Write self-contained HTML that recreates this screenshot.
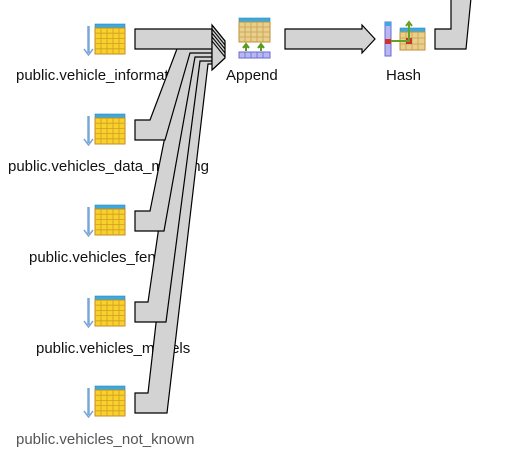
<!DOCTYPE html>
<html><head><style>
html,body{margin:0;padding:0;background:#fff;width:520px;height:460px;overflow:hidden}
svg{display:block}
text{font-family:"Liberation Sans","DejaVu Sans",sans-serif;font-size:15px;fill:#111}
</style></head><body>
<svg width="520" height="460" viewBox="0 0 520 460">
<defs>
<g id="src">
  <line x1="88.5" y1="2" x2="88.5" y2="29" stroke="#7aa7d8" stroke-width="2.5"/>
  <path d="M84 25 L88.5 31 L93 25" fill="none" stroke="#7aa7d8" stroke-width="1.5"/>
  <rect x="95" y="0" width="30" height="4" fill="#3aaae0" stroke="#2a8ac0" stroke-width="0.6"/>
  <rect x="95" y="4" width="30" height="26" fill="#f6d22a" stroke="#c88a20" stroke-width="1"/>
  <path d="M101 4V30M107 4V30M113 4V30M119 4V30M95 9.2H125M95 14.4H125M95 19.6H125M95 24.8H125" stroke="#d49a28" stroke-width="0.8"/>
</g>
</defs>
<use href="#src" x="0" y="24"/>
<use href="#src" x="0" y="114"/>
<use href="#src" x="0" y="205"/>
<use href="#src" x="0" y="296"/>
<use href="#src" x="0" y="386"/>
<text x="16" y="80">public.vehicle_information</text>
<text x="8" y="171">public.vehicles_data_mapping</text>
<text x="29" y="262">public.vehicles_fences</text>
<text x="36" y="353">public.vehicles_models</text>
<text x="16" y="444" style="fill:#555">public.vehicles_not_known</text>
<g fill="#d3d3d3" stroke="#000" stroke-width="1.2" stroke-linejoin="miter">
  <polygon points="135,393 148,393 188,44 212,44 212,64 208,64 167,413 135,413"/>
  <polygon points="135,302 148,302 186,41 212,41 212,61 200,61 166,322 135,322"/>
  <polygon points="135,211 150,211 185,37 212,37 212,57 195,57 164,231 135,231"/>
  <polygon points="135,120 150,120 183,33 212,33 212,53 190,53 165,140 135,140"/>
  <polygon points="135,29 212,29 212,49 183,49 183,49 135,49"/>
  <polygon points="212,25 225,41 225,58 212,70 212,65 212,29"/>
</g>
<g fill="none" stroke="#000" stroke-width="1">
  <path d="M212 25 L225 41 M212 29 L225 45 M212 33 L225 49 M212 37 L225 53 M212 41 L225 57 M225 58 L212 70"/>
</g>
<g>
  <rect x="239" y="18" width="31" height="4" fill="#3aaae0" stroke="#2a8ac0" stroke-width="0.6"/>
  <rect x="239" y="22" width="31" height="20" fill="#e8cf8c" stroke="#c0903a" stroke-width="1"/>
  <path d="M245 22V42M251 22V42M257 22V42M263 22V42M239 27H270M239 32H270M239 37H270" stroke="#c8a050" stroke-width="0.8"/>
  <path d="M246 51V46M243 48L246 44L249 48M261 51V46M258 48L261 44L264 48" stroke="#5a9a20" stroke-width="2" fill="#8c3"/>
  <rect x="239" y="52" width="31" height="6" fill="#b8b8f0" stroke="#6a6ad0" stroke-width="1"/>
  <path d="M245 52V58M251 52V58M257 52V58M263 52V58" stroke="#6a6ad0" stroke-width="0.8"/>
</g>
<text x="226" y="80">Append</text>
<polygon points="285,29 362,29 362,25 375,39 362,53 362,49 285,49" fill="#d3d3d3" stroke="#000" stroke-width="1.2"/>
<g>
  <rect x="385" y="22" width="6" height="34" fill="#b8b8f0" stroke="#6a6ad0" stroke-width="1"/>
  <rect x="385" y="22" width="6" height="4" fill="#3aaae0"/>
  <rect x="385" y="39" width="6" height="5" fill="#d03030"/>
  <rect x="400" y="28" width="25" height="4" fill="#3aaae0" stroke="#2a8ac0" stroke-width="0.6"/>
  <rect x="400" y="32" width="25" height="18" fill="#e8cf8c" stroke="#c0903a" stroke-width="1"/>
  <path d="M406 32V50M412 32V50M418 32V50M400 38H425M400 44H425" stroke="#c8a050" stroke-width="0.8"/>
  <rect x="406" y="38" width="6" height="6" fill="#d03030"/>
  <path d="M391 41H410M409 41V24M406 26L409 22L412 26" stroke="#6aa020" stroke-width="2" fill="none"/>
</g>
<text x="386" y="80">Hash</text>
<polygon points="435,29 451,29 451,-2 471,-2 466,49 435,49" fill="#d3d3d3" stroke="#000" stroke-width="1.2"/>
</svg>
</body></html>
